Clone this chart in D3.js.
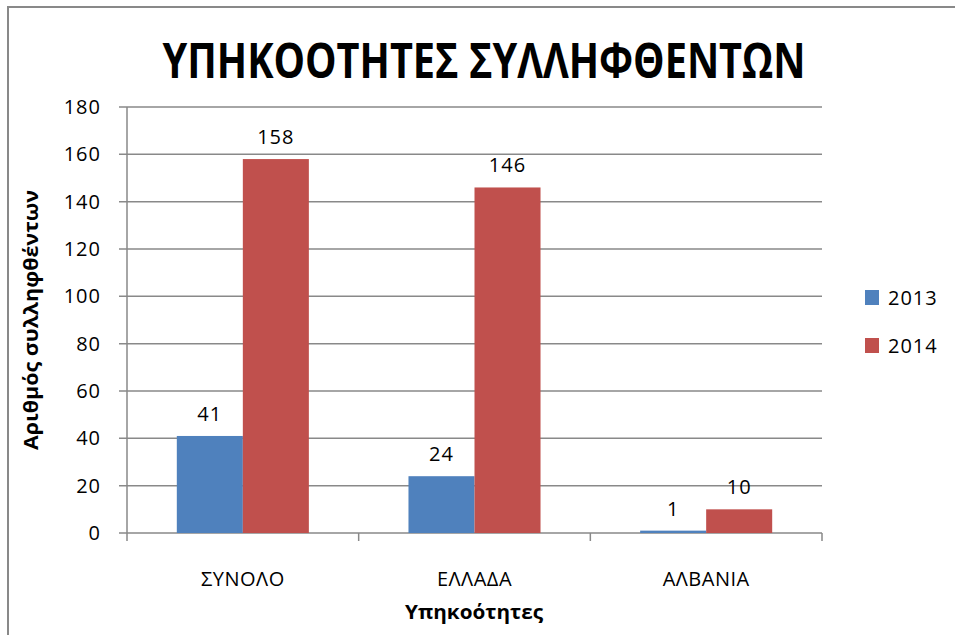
<!DOCTYPE html>
<html>
<head>
<meta charset="utf-8">
<script src="https://cdn.jsdelivr.net/npm/d3@7"></script>
<style>
  body { margin: 0; background: #fff; }
  text { font-family: "Open Sans", "Noto Sans", sans-serif; fill: #000; }
</style>
</head>
<body>
<script>
var width = 955;
var height = 635;

// data
var categories = ["ΣΥΝΟΛΟ", "ΕΛΛΑΔΑ", "ΑΛΒΑΝΙΑ"];
var seriesNames = ["2013", "2014"];
var values2013 = [41, 24, 1];
var values2014 = [158, 146, 10];
var yTicks = [0, 20, 40, 60, 80, 100, 120, 140, 160, 180];
var colors = ["#4F81BD", "#C0504D"];

var series = [values2013, values2014];

// plot area (note: "top" is reserved on window, so use plot* names)
var plotLeft = 127, plotRight = 822, plotTop = 107, plotBottom = 533;

var svg = d3.select("body")
    .append("svg")
    .attr("width", width)
    .attr("height", height);

// outer frame
svg.append("rect")
    .attr("x", 8)
    .attr("y", 7)
    .attr("width", width + 20)
    .attr("height", height + 20)
    .style("fill", "none")
    .style("stroke", "#898989")
    .style("stroke-width", 2);

var y = d3.scaleLinear().domain([0, 180]).range([plotBottom, plotTop]);
var x0 = d3.scaleBand().domain(categories).range([plotLeft, plotRight])
    .paddingInner(0.43).paddingOuter(0.215);
var x1 = d3.scaleBand().domain(seriesNames).range([0, x0.bandwidth()]);

// gridlines
svg.append("g")
    .selectAll("line")
    .data(yTicks)
    .enter().append("line")
    .attr("x1", plotLeft - 8)
    .attr("x2", plotRight)
    .attr("y1", function (d) { return y(d); })
    .attr("y2", function (d) { return y(d); })
    .style("stroke", "#898989")
    .style("stroke-width", 1.5);

// y axis line
svg.append("line")
    .attr("x1", plotLeft).attr("x2", plotLeft)
    .attr("y1", plotTop).attr("y2", plotBottom)
    .style("stroke", "#898989")
    .style("stroke-width", 1.5);

// x axis ticks between categories
var bounds = [plotLeft].concat(categories.map(function (c) { return x0(c) + x0.bandwidth() + x0.step() * x0.paddingInner() / 2; }));
bounds[bounds.length - 1] = plotRight;
svg.append("g")
    .selectAll("line")
    .data(bounds)
    .enter().append("line")
    .attr("x1", function (d) { return d; })
    .attr("x2", function (d) { return d; })
    .attr("y1", plotBottom)
    .attr("y2", plotBottom + 8)
    .style("stroke", "#898989")
    .style("stroke-width", 1.5);

// y tick labels
svg.append("g")
    .selectAll("text")
    .data(yTicks)
    .enter().append("text")
    .attr("x", 101)
    .attr("y", function (d) { return y(d) + 7; })
    .attr("text-anchor", "end")
    .style("font-size", "20px")
    .style("letter-spacing", "1px")
    .text(function (d) { return d; });

// bars
var groups = svg.append("g")
    .selectAll("g")
    .data(categories)
    .enter().append("g")
    .attr("transform", function (c) { return "translate(" + x0(c) + ",0)"; });

groups.selectAll("rect")
    .data(function (c, ci) { return seriesNames.map(function (s, si) { return { s: s, v: series[si][ci], i: si }; }); })
    .enter().append("rect")
    .attr("x", function (d) { return x1(d.s); })
    .attr("y", function (d) { return y(d.v); })
    .attr("width", x1.bandwidth())
    .attr("height", function (d) { return plotBottom - y(d.v); })
    .style("fill", function (d) { return colors[d.i]; });

groups.selectAll("text")
    .data(function (c, ci) { return seriesNames.map(function (s, si) { return { s: s, v: series[si][ci] }; }); })
    .enter().append("text")
    .attr("x", function (d) { return x1(d.s) + x1.bandwidth() / 2; })
    .attr("y", function (d) { return y(d.v) - 15; })
    .attr("text-anchor", "middle")
    .style("font-size", "20px")
    .style("letter-spacing", "1px")
    .text(function (d) { return d.v; });

// category labels
svg.append("g")
    .selectAll("text")
    .data(categories)
    .enter().append("text")
    .attr("x", function (c) { return x0(c) + x0.bandwidth() / 2; })
    .attr("y", 586)
    .attr("text-anchor", "middle")
    .style("font-size", "20px")
    .style("letter-spacing", "0.5px")
    .text(function (c) { return c; });

// title
svg.append("text")
    .attr("x", 484)
    .attr("y", 78)
    .attr("text-anchor", "middle")
    .attr("textLength", 643)
    .attr("lengthAdjust", "spacingAndGlyphs")
    .style("font-size", "49px")
    .style("font-weight", "bold")
    .text("ΥΠΗΚΟΟΤΗΤΕΣ ΣΥΛΛΗΦΘΕΝΤΩΝ");

// axis titles
svg.append("text")
    .attr("x", 474)
    .attr("y", 619)
    .attr("text-anchor", "middle")
    .attr("textLength", 138)
    .attr("lengthAdjust", "spacingAndGlyphs")
    .style("font-size", "20px")
    .style("font-weight", "bold")
    .text("Υπηκοότητες");

svg.append("text")
    .attr("transform", "translate(38,320) rotate(-90)")
    .attr("text-anchor", "middle")
    .attr("textLength", 260)
    .attr("lengthAdjust", "spacingAndGlyphs")
    .style("font-size", "20px")
    .style("font-weight", "bold")
    .text("Αριθμός συλληφθέντων");

// legend
var legend = svg.append("g")
    .selectAll("g")
    .data(seriesNames)
    .enter().append("g")
    .attr("transform", function (d, i) { return "translate(865," + (290 + i * 48) + ")"; });
legend.append("rect")
    .attr("width", 14)
    .attr("height", 15)
    .style("fill", function (d, i) { return colors[i]; });
legend.append("text")
    .attr("x", 23)
    .attr("y", 15)
    .style("font-size", "20px")
    .style("letter-spacing", "1px")
    .text(function (d) { return d; });
</script>
</body>
</html>
